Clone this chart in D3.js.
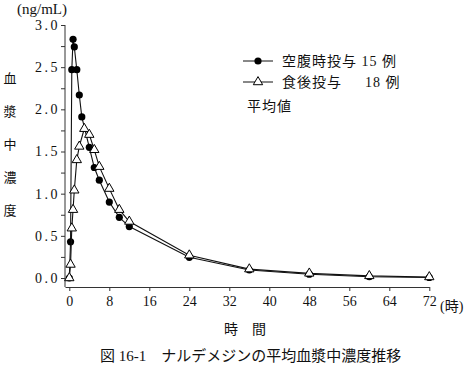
<!DOCTYPE html>
<html>
<head>
<meta charset="utf-8">
<script src="https://cdn.jsdelivr.net/npm/d3@7"></script>
<style>
  body { margin: 0; background: #fff; }
  svg { display: block; }
  text { font-family: "Liberation Serif", "Noto Sans CJK JP", serif; fill: #111; }
</style>
</head>
<body>
<div id="chart"></div>
<script>
window.onload = function() {
    'use strict';

    // 時間 (h)
    var fastTimes = [0, 0.25, 0.5, 0.75, 1, 1.5, 2, 2.5, 4, 5, 6, 8, 10, 12, 24, 36, 48, 60, 72];
    var fastValues = [0, 0.43, 2.47, 2.83, 2.74, 2.47, 2.17, 1.91, 1.55, 1.31, 1.16, 0.90, 0.72, 0.61, 0.245, 0.095, 0.045, 0.015, 0.006];
    var fedTimes = [0, 0.25, 0.5, 0.75, 1, 1.5, 2, 3, 4, 5, 6, 8, 10, 12, 24, 36, 48, 60, 72];
    var fedValues = [0, 0.16, 0.59, 0.81, 1.04, 1.40, 1.56, 1.77, 1.70, 1.52, 1.32, 1.06, 0.81, 0.67, 0.27, 0.105, 0.055, 0.025, 0.012];

    var xTicks = [0, 8, 16, 24, 32, 40, 48, 56, 64, 72];
    var yTicks = [0, 0.25, 0.5, 0.75, 1, 1.25, 1.5, 1.75, 2, 2.25, 2.5, 2.75, 3];
    var legendLabels = ["空腹時投与 15 例", "食後投与", "18 例", "平均値"];

    var width = 472, height = 374;
    var axisX = 65, axisY = 287;

    var svg = d3.select('#chart')
        .append('svg')
        .attr('width', width)
        .attr('height', height);

    var x = d3.scaleLinear().domain([-0.86, 72]).range([axisX, 429.3]);
    var y = d3.scaleLinear().domain([0, 3]).range([278, 25]);

    // y axis
    var yAxis = svg.append('g')
        .attr('transform', 'translate(' + axisX + ',0)')
        .call(d3.axisLeft(y).tickValues(yTicks).tickSize(4)
            .tickFormat(function(d) { return (d * 2) % 1 === 0 ? d.toFixed(1) : ''; }));
    yAxis.select('.domain').remove();
    yAxis.selectAll('.tick line').attr('stroke', '#333');
    yAxis.selectAll('.tick text')
        .attr('x', -5)
        .style('font-size', '14px')
        .style('letter-spacing', '2.5px')
        .attr('font-family', null);
    svg.append('line')
        .attr('x1', axisX).attr('x2', axisX)
        .attr('y1', y(3)).attr('y2', axisY)
        .attr('stroke', '#333');

    // x axis
    var xAxis = svg.append('g')
        .attr('transform', 'translate(0,' + axisY + ')')
        .call(d3.axisBottom(x).tickValues(xTicks).tickSize(4).tickSizeOuter(0));
    xAxis.select('.domain').attr('stroke', '#333');
    xAxis.selectAll('.tick line').attr('stroke', '#333');
    xAxis.selectAll('.tick text')
        .attr('y', 9)
        .style('font-size', '14px')
        .attr('font-family', null);

    svg.append('text')
        .attr('x', 440).attr('y', 311)
        .style('font-size', '14px')
        .text('(時)');

    svg.append('text')
        .attr('x', 17).attr('y', 14)
        .style('font-size', '15px')
        .text('(ng/mL)');

    // vertical y title
    var yTitle = '血漿中濃度';
    yTitle.split('').forEach(function(ch, i) {
        svg.append('text')
            .attr('x', 10).attr('y', 78 + i * 33)
            .attr('text-anchor', 'middle')
            .attr('dominant-baseline', 'central')
            .style('font-size', '13px')
            .text(ch);
    });

    svg.append('text')
        .attr('x', 245).attr('y', 334)
        .attr('text-anchor', 'middle')
        .style('font-size', '14px')
        .text('時　間');

    svg.append('text')
        .attr('x', 100).attr('y', 361)
        .style('font-size', '15px')
        .text('図 16-1　ナルデメジンの平均血漿中濃度推移');

    var line = d3.line()
        .x(function(d) { return x(d[0]); })
        .y(function(d) { return y(d[1]); });

    var fast = fastTimes.map(function(t, i) { return [t, fastValues[i]]; });
    var fed = fedTimes.map(function(t, i) { return [t, fedValues[i]]; });

    svg.append('path')
        .attr('d', line(fast))
        .attr('fill', 'none')
        .attr('stroke', '#111')
        .attr('stroke-width', 1.1);
    svg.selectAll('circle.fast')
        .data(fast)
        .enter()
        .append('circle')
        .attr('class', 'fast')
        .attr('cx', function(d) { return x(d[0]); })
        .attr('cy', function(d) { return y(d[1]); })
        .attr('r', 3.6)
        .attr('fill', '#000');

    var tri = d3.symbol().type(d3.symbolTriangle).size(38);

    svg.append('path')
        .attr('d', line(fed))
        .attr('fill', 'none')
        .attr('stroke', '#111')
        .attr('stroke-width', 1.1);
    svg.selectAll('path.fed')
        .data(fed)
        .enter()
        .append('path')
        .attr('class', 'fed')
        .attr('d', tri)
        .attr('transform', function(d) { return 'translate(' + x(d[0]) + ',' + y(d[1]) + ')'; })
        .attr('fill', '#fff')
        .attr('stroke', '#000')
        .attr('stroke-width', 1);

    // legend
    var lg = svg.append('g');
    lg.append('line').attr('x1', 243).attr('x2', 273).attr('y1', 61).attr('y2', 61).attr('stroke', '#111');
    lg.append('circle').attr('cx', 258).attr('cy', 61).attr('r', 3.6).attr('fill', '#000');
    lg.append('line').attr('x1', 243).attr('x2', 273).attr('y1', 82).attr('y2', 82).attr('stroke', '#111');
    lg.append('path').attr('d', tri).attr('transform', 'translate(258,82)')
        .attr('fill', '#fff').attr('stroke', '#000');

    lg.append('text').attr('x', 282).attr('y', 66).style('font-size', '14px').style('letter-spacing', '1px').text(legendLabels[0]);
    lg.append('text').attr('x', 282).attr('y', 87).style('font-size', '14px').style('letter-spacing', '1px').text(legendLabels[1]);
    lg.append('text').attr('x', 365).attr('y', 87).style('font-size', '14px').style('letter-spacing', '1px').text(legendLabels[2]);
    lg.append('text').attr('x', 247).attr('y', 111).style('font-size', '14px').style('letter-spacing', '1px').text(legendLabels[3]);
};
</script>
</body>
</html>
